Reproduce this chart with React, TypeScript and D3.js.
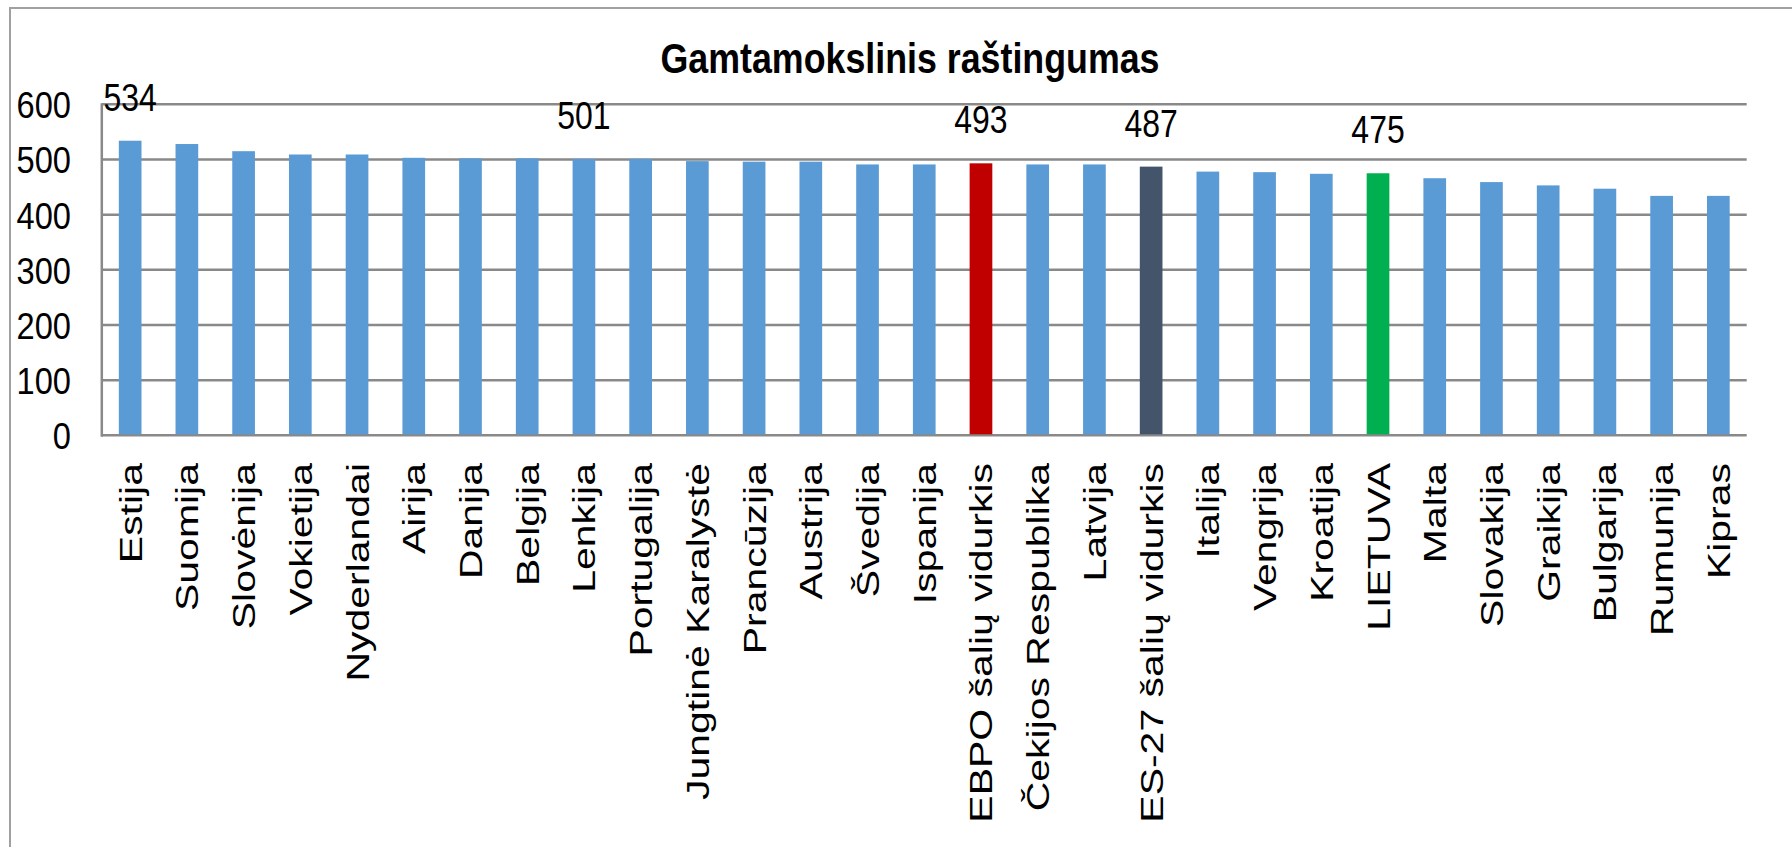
import React from "react"
import * as d3 from "d3"

const categories = [
  "Estija", "Suomija", "Slovėnija", "Vokietija", "Nyderlandai", "Airija", "Danija",
  "Belgija", "Lenkija", "Portugalija", "Jungtinė Karalystė", "Prancūzija", "Austrija",
  "Švedija", "Ispanija", "EBPO šalių vidurkis", "Čekijos Respublika", "Latvija",
  "ES-27 šalių vidurkis", "Italija", "Vengrija", "Kroatija", "LIETUVA", "Malta",
  "Slovakija", "Graikija", "Bulgarija", "Rumunija", "Kipras"
]
const scores = [
  534, 528, 515, 509, 509, 503, 502, 502, 501, 501, 497, 496, 496, 491, 491, 493, 491,
  491, 487, 478, 477, 474, 475, 466, 459, 453, 447, 434, 434
]
// bars that carry a value label above them
const labelled = ["Estija", "Lenkija", "EBPO šalių vidurkis", "ES-27 šalių vidurkis", "LIETUVA"]
const highlight: Record<string, string> = {
  "EBPO šalių vidurkis": "#C00000",
  "ES-27 šalių vidurkis": "#44546A",
  "LIETUVA": "#00B050"
}
const yTicks = [0, 100, 200, 300, 400, 500, 600]
const title = "Gamtamokslinis raštingumas"

const W = 1792
const H = 847
const left = 101.8
const right = 1746.7
const top = 104.3
const bottom = 435.3

const App = () => {
  const x = d3.scaleBand<string>()
    .domain(categories)
    .range([left, right])
    .paddingInner(0.6)
    .paddingOuter(0.3)
  const y = d3.scaleLinear().domain([0, 600]).range([bottom, top])
  const grid = "#898989"

  return (
    <svg width={W} height={H} style={{ position: "absolute", left: 0, top: 0, display: "block" }}
      fontFamily="'Liberation Sans', Arial, sans-serif">
      <rect x={0} y={0} width={W} height={H} fill="#fff" />
      <rect x={10} y={8} width={W + 20} height={H + 20} fill="none" stroke="#a0a0a0" strokeWidth={2} />

      <text x={910} y={73} textAnchor="middle" fontWeight="bold" fontSize={42}
        textLength={499} lengthAdjust="spacingAndGlyphs">{title}</text>

      {yTicks.map(t => (
        <g key={t}>
          <line x1={left} x2={right} y1={y(t)} y2={y(t)} stroke={grid} strokeWidth={2.5} />
          <text transform={`translate(71,${y(t) + 14}) scale(0.96,1.08)`} textAnchor="end" fontSize={34}>{t}</text>
        </g>
      ))}
      <line x1={left} x2={left} y1={top - 1} y2={bottom + 1.5} stroke={grid} strokeWidth={2.5} />

      {categories.map((c, i) => (
        <rect key={c} x={x(c)} y={y(scores[i])} width={x.bandwidth()}
          height={bottom - 1 - y(scores[i])} fill={highlight[c] || "#5B9BD5"} />
      ))}

      {categories.map((c, i) => labelled.includes(c) && (
        <text key={c} transform={`translate(${x(c)! + x.bandwidth() / 2},${y(scores[i]) - 30}) scale(0.94,1.12)`}
          textAnchor="middle" fontSize={34}>{scores[i]}</text>
      ))}

      {categories.map(c => (
        <text key={c} transform={`translate(${x(c)! + x.bandwidth() / 2},463) rotate(-90) scale(1.28,1)`}
          textAnchor="end" dy="0.36em" fontSize={32}>{c}</text>
      ))}
    </svg>
  )
}

export default App
